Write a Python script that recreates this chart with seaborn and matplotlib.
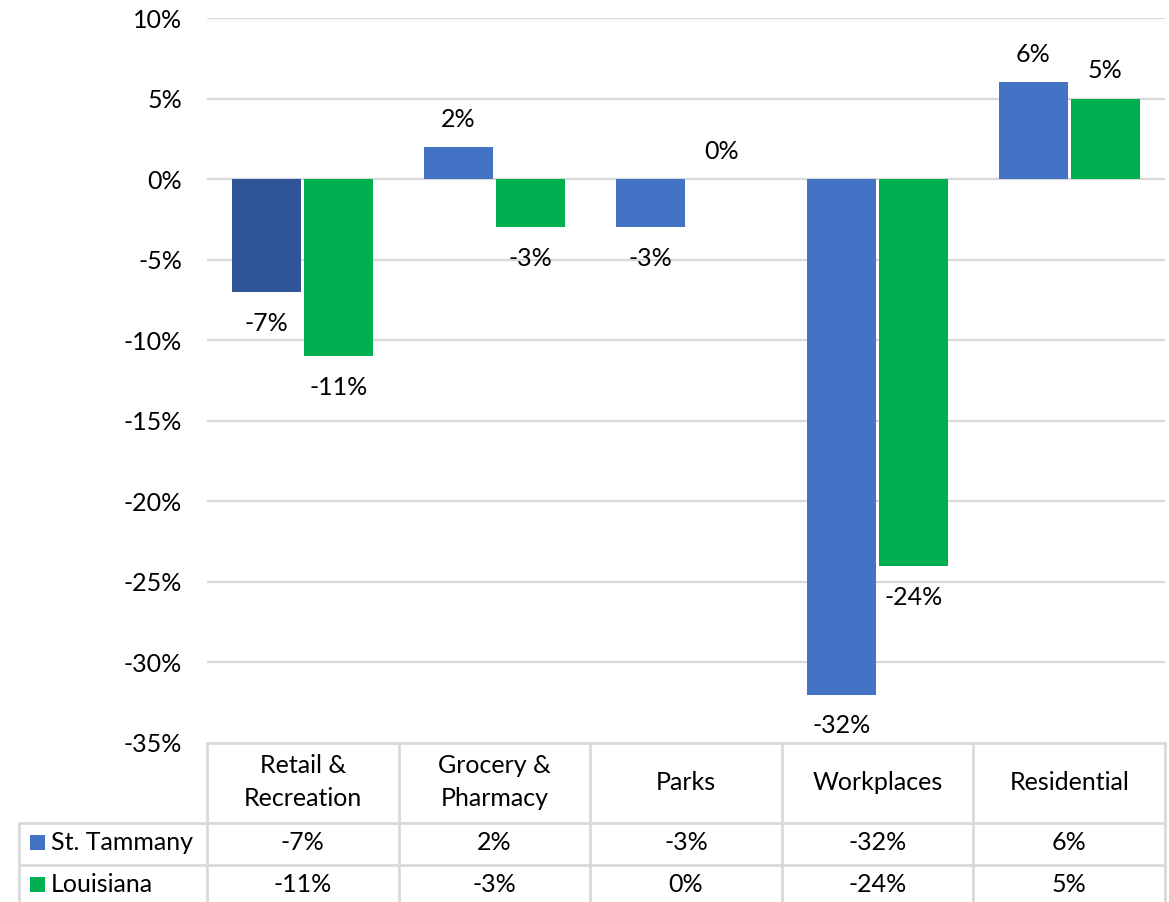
import matplotlib
matplotlib.use("Agg")
import matplotlib.pyplot as plt
import seaborn as sns
import pandas as pd
from matplotlib.lines import Line2D
from matplotlib.patches import Rectangle

categories = ["Retail &\nRecreation", "Grocery &\nPharmacy", "Parks", "Workplaces", "Residential"]
series_names = ["St. Tammany", "Louisiana"]
st_tammany = [-7, 2, -3, -32, 6]
louisiana = [-11, -3, 0, -24, 5]
y_ticks = [10, 5, 0, -5, -10, -15, -20, -25, -30, -35]

BLUE = "#4472C4"
DARK_BLUE = "#2F5597"
GREEN = "#00B050"
GRID = "#D9D9D9"
FONT = "Lato"
FS = 18

sns.set_theme(style="white")
plt.rcParams["font.family"] = [FONT, "DejaVu Sans"]

W, H = 1169, 902
fig = plt.figure(figsize=(W / 100, H / 100), dpi=100)

def fx(px):
    return px / W

def fy(py):
    return 1 - py / H

x0, x1, y_top, y_bot = 207, 1165, 18, 743
ax = fig.add_axes([fx(x0), fy(y_bot), fx(x1) - fx(x0), fy(y_top) - fy(y_bot)])

df = pd.DataFrame({
    "cat": categories * 2,
    "series": [series_names[0]] * 5 + [series_names[1]] * 5,
    "val": st_tammany + louisiana,
})
sns.barplot(data=df, x="cat", y="val", hue="series", order=categories,
            hue_order=series_names, palette=[BLUE, GREEN], width=0.75, gap=0.04,
            saturation=1, legend=False, ax=ax, edgecolor="none", linewidth=0)

ax.patches[0].set_facecolor(DARK_BLUE)

ax.set_ylim(-35, 10)
ax.set_xlim(-0.5, 4.5)
ax.set_yticks(y_ticks)
ax.set_yticklabels([f"{t}%" for t in y_ticks], fontsize=FS, color="#000000")
ax.tick_params(axis="y", length=0, pad=18)
ax.set_xticks([])
ax.set_xlabel("")
ax.set_ylabel("")
for s in ax.spines.values():
    s.set_visible(False)
for t in y_ticks[:-1]:
    ax.axhline(t, color=GRID, lw=1.6, zorder=0)
ax.set_axisbelow(True)

# data labels
for p, v in zip(ax.patches[:10], st_tammany + louisiana):
    cx = p.get_x() + p.get_width() / 2
    off = -22.5 if v < 0 else 20
    ax.annotate(f"{v}%", (cx, v), xytext=(0, off), textcoords="offset points",
                ha="center", va="center", fontsize=FS, color="#000000")

# data table
col_edges = [x0 + i * (x1 - x0) / 5 for i in range(6)]
lkw = dict(color=GRID, lw=2, transform=fig.transFigure)
fig.add_artist(Line2D([fx(x0), fx(x1)], [fy(743), fy(743)], **lkw))
for yy in [823, 865]:
    fig.add_artist(Line2D([fx(19), fx(x1)], [fy(yy), fy(yy)], **lkw))
for xe in col_edges:
    fig.add_artist(Line2D([fx(xe), fx(xe)], [fy(743), fy(902)], **lkw))
fig.add_artist(Line2D([fx(19), fx(19)], [fy(823), fy(902)], **lkw))

for i, c in enumerate(categories):
    cx = (col_edges[i] + col_edges[i + 1]) / 2
    fig.text(fx(cx), fy(782), c, ha="center", va="center", fontsize=FS,
             linespacing=1.5, color="#000000")
    fig.text(fx(cx), fy(843), f"{st_tammany[i]}%", ha="center", va="center",
             fontsize=FS, color="#000000")
    fig.text(fx(cx), fy(885), f"{louisiana[i]}%", ha="center", va="center",
             fontsize=FS, color="#000000")

for name, col, yc in [(series_names[0], BLUE, 842), (series_names[1], GREEN, 884)]:
    fig.add_artist(Rectangle((fx(30), fy(yc + 8)), fx(15), fy(0) - fy(15),
                             transform=fig.transFigure, color=col, lw=0))
    fig.text(fx(51), fy(yc), name, ha="left", va="center", fontsize=FS,
             color="#000000")

fig.savefig("out.png", dpi=100, facecolor="white")
